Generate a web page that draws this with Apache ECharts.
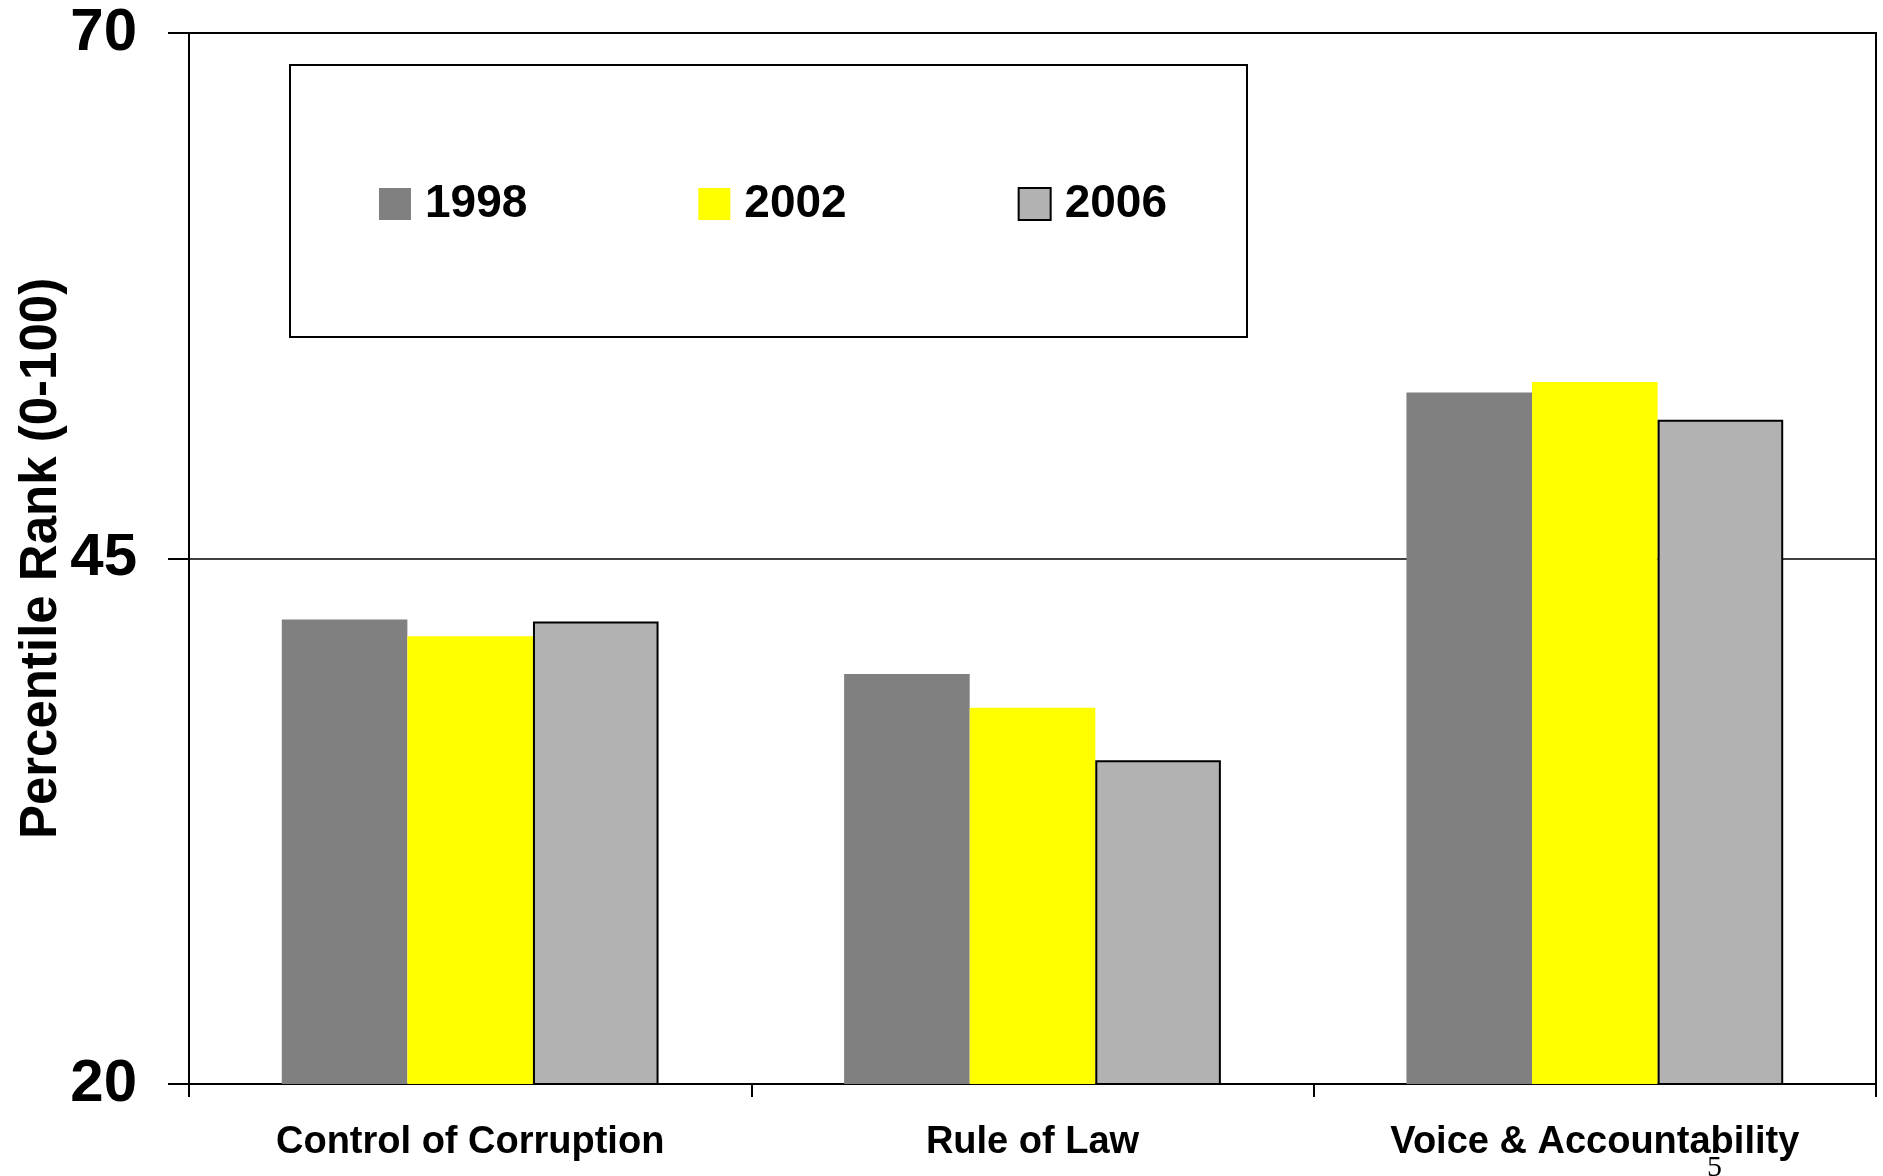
<!DOCTYPE html>
<html>
<head>
    <meta charset="utf-8">
    <title>Percentile Rank</title>
    <script src="https://cdn.jsdelivr.net/npm/echarts@6/dist/echarts.min.js"></script>
    <style>
        html, body { margin: 0; padding: 0; background: #fff; }
    </style>
</head>
<body>
<div id="main" style="width: 1883px;height:1176px;"></div>
<script type="text/javascript">
    // 数据
    var categories = ['Control of Corruption', 'Rule of Law', 'Voice & Accountability'];
    var years = ['1998', '2002', '2006'];
    var values1998 = [42.1, 39.5, 52.9];
    var values2002 = [41.3, 37.9, 53.4];
    var values2006 = [42.0, 35.4, 51.6];
    var yTicks = [20, 45, 70];

    var font = '"Liberation Sans", Arial, sans-serif';
    var myChart = echarts.init(document.getElementById('main'));

    option = {
        animation: false,
        backgroundColor: '#fff',
        grid: {
            left: 189,
            right: 7,
            top: 33,
            bottom: 92,
            show: true,
            borderColor: '#000',
            borderWidth: 2
        },
        legend: {
            data: years,
            left: 290,
            top: 65,
            orient: 'horizontal',
            padding: [116, 80, 110, 89],
            borderColor: '#000',
            borderWidth: 2,
            itemWidth: 32,
            itemHeight: 32,
            itemGap: 171,
            icon: 'rect',
            textStyle: {
                fontFamily: font,
                fontWeight: 'bold',
                fontSize: 46,
                color: '#000',
                padding: [4, 0, 0, 9]
            }
        },
        xAxis: {
            type: 'category',
            data: categories,
            axisLine: { lineStyle: { color: '#000', width: 2 } },
            axisTick: { show: true, length: 13, lineStyle: { color: '#000', width: 2 } },
            axisLabel: {
                margin: 40,
                fontFamily: font,
                fontWeight: 'bold',
                fontSize: 38,
                color: '#000'
            }
        },
        yAxis: {
            type: 'value',
            min: 20,
            max: 70,
            name: 'Percentile Rank (0-100)',
            nameLocation: 'middle',
            nameRotate: 90,
            nameGap: 122,
            nameMoveOverlap: false,
            nameTextStyle: {
                fontFamily: font,
                fontWeight: 'bold',
                fontSize: 51,
                color: '#000'
            },
            axisLine: { show: true, lineStyle: { color: '#000', width: 2 } },
            axisTick: { show: true, length: 21, customValues: yTicks, lineStyle: { color: '#000', width: 2 } },
            axisLabel: {
                customValues: yTicks,
                margin: 52,
                fontFamily: font,
                fontWeight: 'bold',
                fontSize: 60,
                color: '#000'
            },
            splitLine: { show: true, lineStyle: { color: '#000', width: 1.5 } }
        },
        series: [{
            name: '1998',
            type: 'bar',
            data: values1998,
            barGap: '0%',
            barCategoryGap: '33%',
            itemStyle: { color: '#808080' }
        }, {
            name: '2002',
            type: 'bar',
            data: values2002,
            barGap: '0%',
            barCategoryGap: '33%',
            itemStyle: { color: '#ffff00' }
        }, {
            name: '2006',
            type: 'bar',
            data: values2006,
            barGap: '0%',
            barCategoryGap: '33%',
            itemStyle: { color: '#b2b2b2', borderColor: '#000', borderWidth: 2 }
        }],
        graphic: [{
            type: 'text',
            left: 1707,
            top: 1153,
            style: {
                text: '5',
                font: '30px "Liberation Serif", "Times New Roman", serif',
                fill: '#000'
            }
        }]
    };
    myChart.setOption(option);
</script>
</body>
</html>
